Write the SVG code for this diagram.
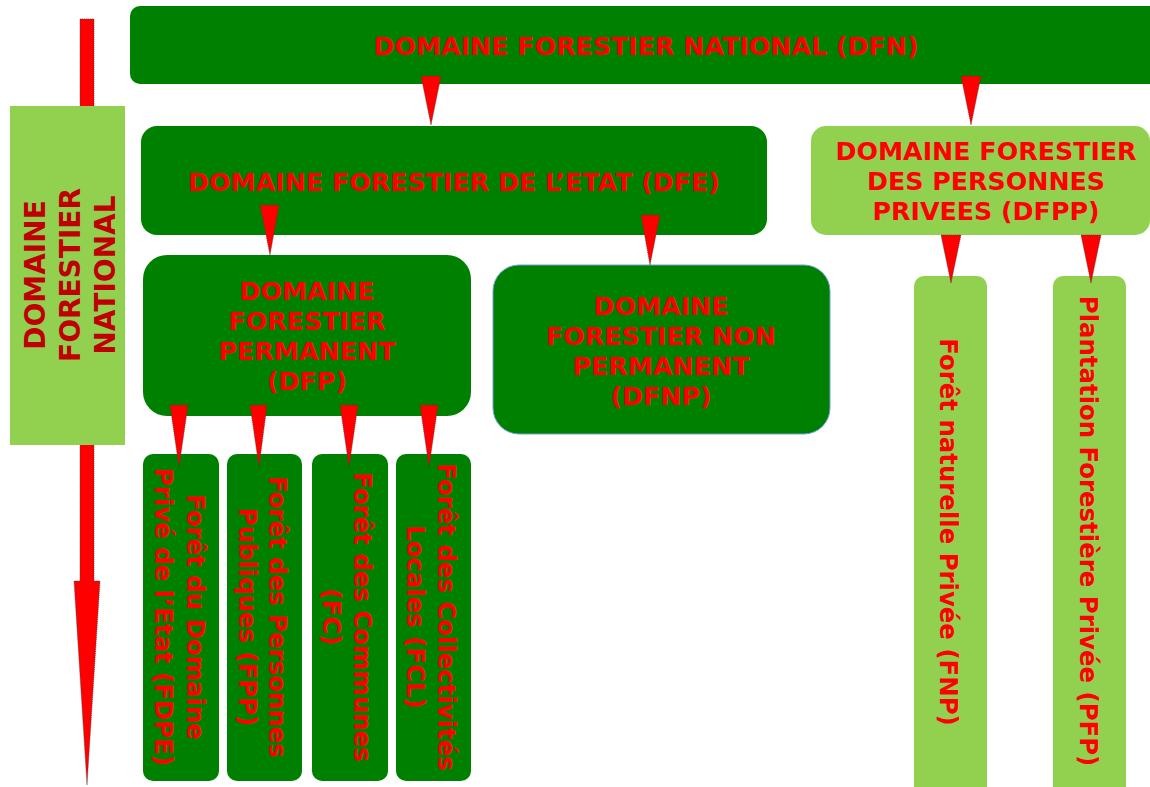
<svg xmlns="http://www.w3.org/2000/svg" width="1150" height="787" viewBox="0 0 1150 787">
<style>
  .dk { fill: #008000; }
  .lt { fill: #92D050; }
  .t { font-family: "DejaVu Sans", Verdana, sans-serif; font-weight: bold; font-size: 25.3px; fill: #FF0000; text-anchor: middle; }
  .s { font-size: 24.4px; }
  .side { font-size: 28px; fill: #C00000; }
  .arr { fill: #FF0000; stroke: #3a3a3a; stroke-width: 0.6; stroke-dasharray: 1.2 0.8; }
</style>
<rect width="1150" height="787" fill="#FFFFFF"/>

<g id="side-arrow">
  <polygon class="arr" points="80,19 94,19 94,581 100,581 87,785 74,581 80,581"/>
</g>

<g id="side-label">
  <rect class="lt" x="10" y="106" width="115" height="339"/>
  <text class="t side" transform="translate(45,275) rotate(-90)"><tspan x="0" y="0">DOMAINE</tspan><tspan x="0" dy="35">FORESTIER</tspan><tspan x="0" dy="35">NATIONAL</tspan></text>
</g>

<g id="dfn">
  <rect class="dk" x="130" y="6" width="1040" height="78" rx="10"/>
  <text class="t" x="646" y="55">DOMAINE FORESTIER NATIONAL (DFN)</text>
</g>

<g id="dfe">
  <rect class="dk" x="141" y="126" width="626" height="109" rx="16"/>
  <text class="t" x="454" y="191">DOMAINE FORESTIER DE L’ETAT (DFE)</text>
</g>

<g id="dfpp">
  <rect class="lt" x="811" y="126" width="339" height="109" rx="15"/>
  <text class="t"><tspan x="986" y="160">DOMAINE FORESTIER</tspan><tspan x="986" y="190">DES PERSONNES</tspan><tspan x="986" y="220">PRIVEES (DFPP)</tspan></text>
</g>

<g id="dfp">
  <rect class="dk" x="143" y="255" width="328" height="161" rx="24"/>
  <text class="t"><tspan x="307" y="300">DOMAINE</tspan><tspan x="307" y="330">FORESTIER</tspan><tspan x="307" y="360">PERMANENT</tspan><tspan x="307" y="390">(DFP)</tspan></text>
</g>

<g id="dfnp">
  <rect class="dk" x="493" y="265" width="337" height="169" rx="26" stroke="#6FA0DC" stroke-width="1"/>
  <text class="t"><tspan x="661" y="315">DOMAINE</tspan><tspan x="661" y="345">FORESTIER NON</tspan><tspan x="661" y="375">PERMANENT</tspan><tspan x="661" y="405">(DFNP)</tspan></text>
</g>

<g id="fdpe">
  <rect class="dk" x="143" y="454" width="76" height="327" rx="10"/>
  <text class="t s" transform="translate(187,617) rotate(90)"><tspan x="0" y="0">Forêt du Domaine</tspan><tspan x="0" dy="32">Privé de l’Etat (FDPE)</tspan></text>
</g>

<g id="fpp">
  <rect class="dk" x="227" y="454" width="75" height="327" rx="10"/>
  <text class="t s" transform="translate(269,617) rotate(90)"><tspan x="0" y="0">Forêt des Personnes</tspan><tspan x="0" dy="30">Publiques (FPP)</tspan></text>
</g>

<g id="fc">
  <rect class="dk" x="312" y="454" width="76" height="327" rx="10"/>
  <text class="t s" transform="translate(354,617) rotate(90)"><tspan x="0" y="0">Forêt des Communes</tspan><tspan x="0" dy="31">(FC)</tspan></text>
</g>

<g id="fcl">
  <rect class="dk" x="396" y="454" width="75" height="327" rx="10"/>
  <text class="t s" transform="translate(438,617) rotate(90)"><tspan x="0" y="0">Forêt des Collectivités</tspan><tspan x="0" dy="31">Locales (FCL)</tspan></text>
</g>

<g id="fnp">
  <rect class="lt" x="914" y="276" width="73" height="525" rx="10"/>
  <text class="t s" transform="translate(940,532) rotate(90)">Forêt naturelle Privée (FNP)</text>
</g>

<g id="pfp">
  <rect class="lt" x="1053" y="276" width="73" height="525" rx="10"/>
  <text class="t s" transform="translate(1080,531) rotate(90)">Plantation Forestière Privée (PFP)</text>
</g>

<g id="connectors">
  <polygon class="arr" points="421,76 441,76 431,125"/>
  <polygon class="arr" points="961,76 981,76 971,125"/>
  <polygon class="arr" points="260,205 279,205 270,255"/>
  <polygon class="arr" points="641,215 660,215 650,265"/>
  <polygon class="arr" points="170,405 188,405 179,467"/>
  <polygon class="arr" points="250,405 267,405 259,467"/>
  <polygon class="arr" points="340,405 358,405 349,467"/>
  <polygon class="arr" points="420,405 438,405 429,467"/>
  <polygon class="arr" points="941,235 961,235 951,283"/>
  <polygon class="arr" points="1081,235 1101,235 1091,283"/>
</g>
</svg>
